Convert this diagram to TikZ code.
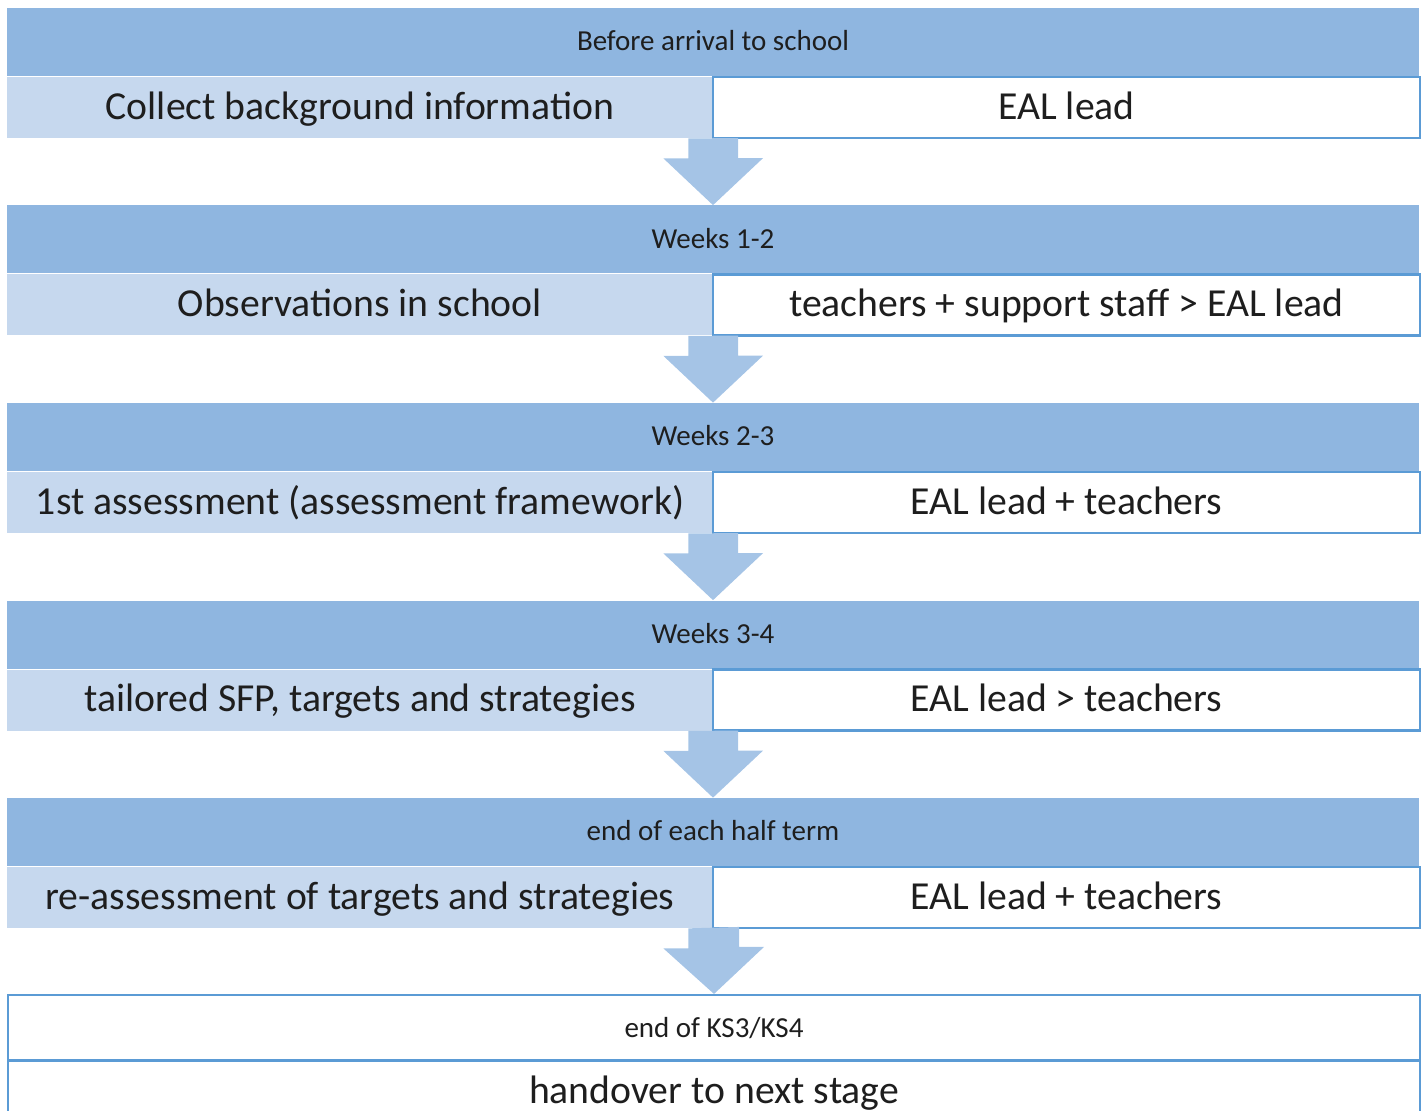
\documentclass[tikz,border=0pt]{standalone}
\usepackage{fontspec}
\setmainfont{Carlito}
\usepackage{xcolor}
\definecolor{band-blue}{RGB}{143,182,224}
\definecolor{cell-blue}{RGB}{198,216,238}
\definecolor{arrow-blue}{RGB}{165,196,230}
\definecolor{edge-blue}{RGB}{91,155,213}
\definecolor{ink}{RGB}{30,30,30}
\usepackage{tikz}
\usetikzlibrary{positioning}

\begin{document}
\begin{tikzpicture}[
    x=0.02cm, y=-0.02cm,
    stage head/.style={
        fill=band-blue,
        minimum width=1412*0.02cm,
        minimum height=68*0.02cm,
        inner sep=0pt,
        text=ink,
        text height=12pt, text depth=2pt,
        font=\fontsize{16.5}{20}\selectfont
    },
    task cell/.style={
        fill=cell-blue,
        minimum width=706*0.02cm,
        minimum height=61*0.02cm,
        inner sep=0pt,
        text=ink,
        text height=16pt, text depth=2.4pt,
        font=\fontsize{22.6}{27}\selectfont
    },
    owner cell/.style={
        draw=edge-blue,
        line width=1.2pt,
        fill=white,
        minimum width=707*0.02cm,
        minimum height=61*0.02cm,
        inner sep=0pt,
        text=ink,
        text height=16pt, text depth=2.4pt,
        font=\fontsize{22.6}{27}\selectfont
    },
    last head/.style={
        draw=edge-blue,
        line width=1.2pt,
        fill=white,
        minimum width=1412*0.02cm,
        minimum height=67*0.02cm,
        inner sep=0pt,
        text=ink,
        text height=12pt, text depth=2pt,
        font=\fontsize{16.5}{20}\selectfont
    },
    last cell/.style={
        last head,
        minimum height=63*0.02cm,
        text height=16pt, text depth=2.4pt,
        font=\fontsize{22.6}{27}\selectfont
    },
    flow arrow/.style={fill=arrow-blue}
]
\useasboundingbox (0,0) rectangle (1426,1111);

% Stage 1
\node[stage head] (head1) at (713,42) {Before arrival to school};
\node[task cell] (task1) at (360,107.5) {Collect background information};
\node[owner cell] (owner1) at (1066.5,107.5) {EAL lead};

% Stage 2
\node[stage head] (head2) at (713,239.5) {Weeks 1-2};
\node[task cell] (task2) at (360,305) {Observations in school};
\node[owner cell] (owner2) at (1066.5,305) {teachers + support staff > EAL lead};

% Stage 3
\node[stage head] (head3) at (713,437) {Weeks 2-3};
\node[task cell] (task3) at (360,502.5) {1st assessment (assessment framework)};
\node[owner cell] (owner3) at (1066.5,502.5) {EAL lead + teachers};

% Stage 4
\node[stage head] (head4) at (713,634.5) {Weeks 3-4};
\node[task cell] (task4) at (360,700) {tailored SFP, targets and strategies};
\node[owner cell] (owner4) at (1066.5,700) {EAL lead > teachers};

% Stage 5
\node[stage head] (head5) at (713,832) {end of each half term};
\node[task cell] (task5) at (360,897.5) {re-assessment of targets and strategies};
\node[owner cell] (owner5) at (1066.5,897.5) {EAL lead + teachers};

% Final stage
\node[last head] (head6) at (714,1028.5) {end of KS3/KS4};
\node[last cell] (task6) at (714,1092) {handover to next stage};

% Arrows
\fill[flow arrow] (task1.south east) ++(-25,0) -- ++(0,20) -- ++(-25,0)
    -- (head2.north) -- ++(50,-47) -- ++(-25,0) -- ++(0,-20) -- cycle;
\fill[flow arrow] (task2.south east) ++(-25,0) -- ++(0,20) -- ++(-25,0)
    -- (head3.north) -- ++(50,-47) -- ++(-25,0) -- ++(0,-20) -- cycle;
\fill[flow arrow] (task3.south east) ++(-25,0) -- ++(0,20) -- ++(-25,0)
    -- (head4.north) -- ++(50,-47) -- ++(-25,0) -- ++(0,-20) -- cycle;
\fill[flow arrow] (task4.south east) ++(-25,0) -- ++(0,20) -- ++(-25,0)
    -- (head5.north) -- ++(50,-47) -- ++(-25,0) -- ++(0,-20) -- cycle;
\fill[flow arrow] (task5.south east) ++(-25,0) -- ++(0,20) -- ++(-25,0)
    -- (head6.north) -- ++(50,-47) -- ++(-25,0) -- ++(0,-20) -- cycle;

\end{tikzpicture}
\end{document}
